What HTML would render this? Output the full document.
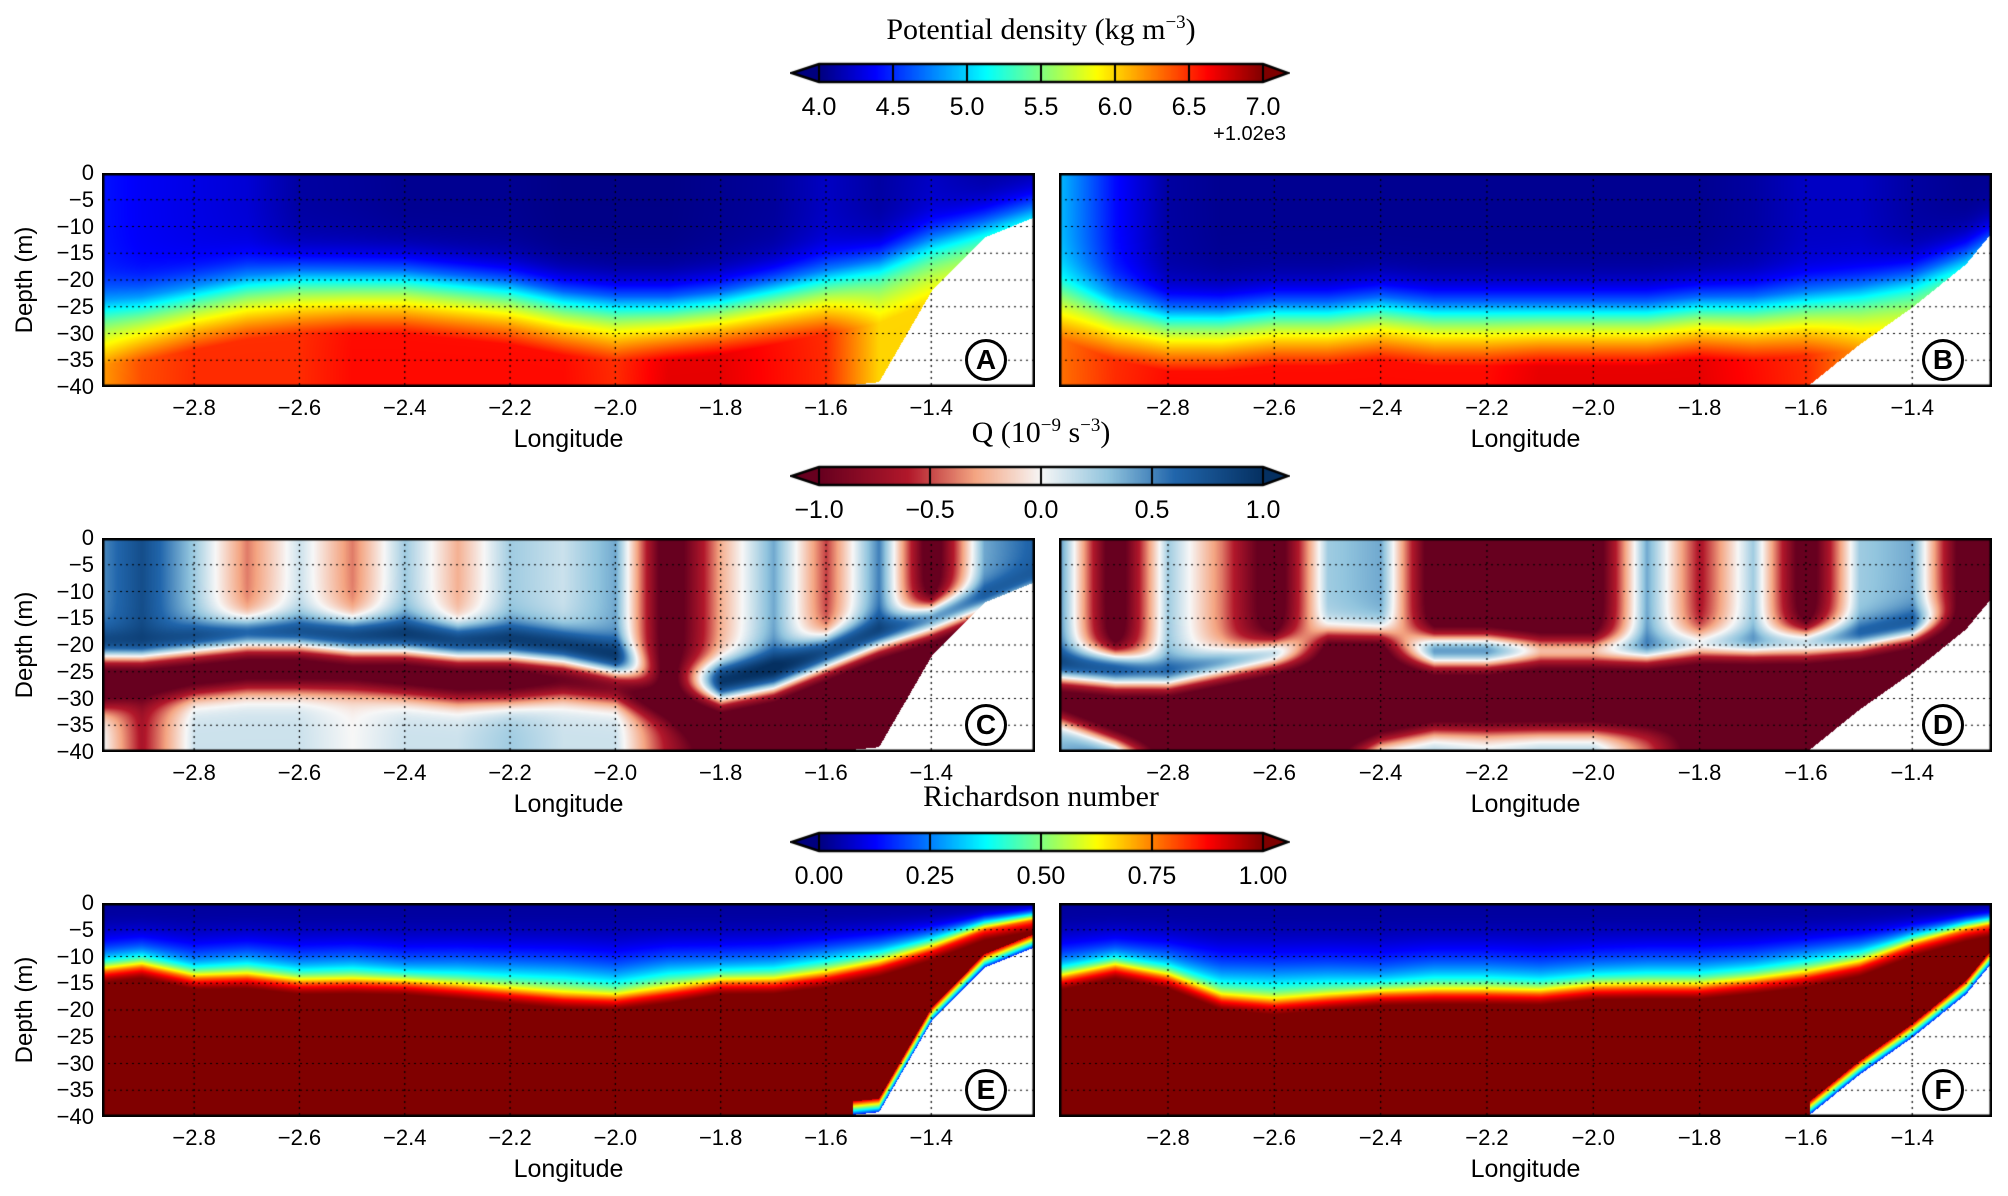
<!DOCTYPE html>
<html><head><meta charset="utf-8">
<style>
body{margin:0;background:#fff;width:2008px;height:1196px;overflow:hidden;font-family:"Liberation Sans",sans-serif;}
#root{position:relative;width:2008px;height:1196px;}
canvas{position:absolute;}
.t{position:absolute;font-size:22px;color:#000;white-space:nowrap;}
.ttl{position:absolute;font-family:"Liberation Serif",serif;font-size:30px;white-space:nowrap;transform:translateX(-50%);}
</style></head><body>
<div id="root"></div>
<script>
// ---------- data ----------
const lons=[-3.0,-2.9,-2.8,-2.7,-2.6,-2.5,-2.4,-2.3,-2.2,-2.1,-2.0,-1.9,-1.8,-1.7,-1.6,-1.5,-1.4,-1.3,-1.2];
const bottomA=[40,40,40,40,40,40,40,40,40,40,40,40,40,40,40,39,22,12,8];
const bottomB=[40,40,40,40,40,40,40,40,40,40,40,40,40,40,40,32,25,17,5];
const rhoSurfA=[4.45,4.35,4.3,4.25,4.1,4.08,4.05,4.05,4.05,4.02,4.02,4.02,4.05,4.08,4.2,4.1,4.2,4.1,4.1];
const rhoIfaceA=[27,26,24,22,21,21,21,22,23,25,26,26,25,23,21,19,15,12,9];
const rhoBotA=[6.1,6.4,6.5,6.5,6.5,6.6,6.6,6.6,6.6,6.6,6.5,6.7,6.7,6.6,6.5,6.0,6.0,6.0,6.0];
const rhoSurfB=[4.9,4.4,4.1,4.05,4.05,4.05,4.05,4.05,4.05,4.05,4.05,4.05,4.05,4.1,4.2,4.2,4.1,4.05,4.05];
const rhoIfaceB=[22,26,28,28,27,27,26,27,27,27,27,27,26,26,25,24,22,18,12];
const rhoBotB=[6.3,6.5,6.6,6.6,6.6,6.6,6.6,6.6,6.6,6.7,6.7,6.7,6.7,6.6,6.5,6.2,6.0,6.0,6.0];
const qD1C=[18,19,17,16,16,16,16,17,17,18,20,24,24,22,19,16,13,10,7];
const qD2C=[22,22,21,20,20,21,21,22,22,23,25,28,30,28,24,20,17,13,9];
const qD3C=[32,30,29,28,28,28,29,30,30,29,30,34,40,40,40,40,40,40,40];
const qTopC=[0.3,0.6,0.2,-0.3,0.1,-0.3,0.2,-0.2,0.2,0.1,0.3,-1,-0.2,0.3,-0.4,0.4,-1,0.3,0.5];
const qBandC=[1,1,1,1,1,1,1,1,1,1,1,-1,1,1,1,1,1,1,1];
const qLowC=[-1,-1,-1,-1,-1,-1,-1,-1,-1,-1,-1,-1,-1,-1,-1,-1,-1,-1,-1];
const qDeepC=[0.2,-0.5,0.1,0.1,0.1,0,0.1,0.1,0.2,0.1,0.1,-0.5,-1,-1,-1,-1,-1,-1,-1];
const qD1D=[22,22,24,22,20,18,18,19,19,20,20,20,19,19,18,17,15,12,8];
const qD2D=[26,27,27,25,23,22,22,23,23,22,22,22,21,21,21,20,18,15,10];
const qD3D=[34,38,40,40,40,40,38,36,36,36,36,36,36,38,40,40,40,40,40];
const qTopD=[0.3,-1,0.2,-0.3,-1,0.2,0.3,-1,-1,-1,-1,0.3,-0.5,0.2,-1,0.2,0.3,-1,-1];
const qBandD=[1,1,1,1,1,-1,-1,1,1,1,1,1,1,1,1,1,1,-1,-1];
const qLowD=[-1,-1,-1,-1,-1,-1,-1,-1,-1,-1,-1,-1,-1,-1,-1,-1,-1,-1,-1];
const qDeepD=[0.3,0.5,-1,-1,-1,-1,0.2,0.2,0.1,0.2,0.2,-0.3,-1,-1,-1,-1,-1,-1,-1];
const riIfaceE=[13,12,14,14,15,15,15,16,17,18,18,17,15,15,14,12,9,5,3];
const riTopE=[0.1,0.15,0.1,0.2,0.15,0.2,0.1,0.2,0.25,0.3,0.2,0.3,0.15,0.2,0.3,0.3,0.3,0.2,0.1];
const riIfaceF=[14,12,14,18,19,18,17,17,17,17,16,16,16,15,14,12,8,5,3];
const riTopF=[0.1,0.1,0.15,0.2,0.25,0.2,0.1,0.2,0.2,0.15,0.15,0.2,0.2,0.2,0.3,0.3,0.2,0.1,0.1];
const xTicks=[-2.8,-2.6,-2.4,-2.2,-2.0,-1.8,-1.6,-1.4];
const yTicks=[0,-5,-10,-15,-20,-25,-30,-35,-40];
const cb1Ticks=["4.0","4.5","5.0","5.5","6.0","6.5","7.0"];
const cb2Ticks=["\u22121.0","\u22120.5","0.0","0.5","1.0"];
const cb3Ticks=["0.00","0.25","0.50","0.75","1.00"];

// ---------- helpers ----------
const root=document.getElementById('root');
function interp(arr,lon){let f=(lon-lons[0])/0.1;if(f<=0)return arr[0];if(f>=arr.length-1)return arr[arr.length-1];let i=Math.floor(f),t=f-i;return arr[i]*(1-t)+arr[i+1]*t;}
function sig(x){return 1/(1+Math.exp(-x));}
function jet(v){v=Math.max(0,Math.min(1,v));const r=Math.min(Math.max(1.5-Math.abs(4*v-3),0),1),g=Math.min(Math.max(1.5-Math.abs(4*v-2),0),1),b=Math.min(Math.max(1.5-Math.abs(4*v-1),0),1);return [r*255,g*255,b*255];}
const rdStops=[[-1,[103,0,31]],[-0.6,[178,24,43]],[-0.3,[244,165,130]],[0,[247,247,247]],[0.3,[146,197,222]],[0.6,[33,102,172]],[1,[5,48,97]]];
function rdbu(v){v=Math.max(-1,Math.min(1,v));for(let i=0;i<rdStops.length-1;i++){const a=rdStops[i],b=rdStops[i+1];if(v<=b[0]){const t=(v-a[0])/(b[0]-a[0]);return a[1].map((c,k)=>c+(b[1][k]-c)*t);}}return rdStops[6][1];}
function el(tag,cls,name,txt,style){const e=document.createElement(tag);if(cls)e.className=cls;

if(txt!=null)e.innerHTML=txt;Object.assign(e.style,style||{});root.appendChild(e);return e;}

const PX={A:102,B:1059},PW=933,PH=214;
const rowsY=[173,538,903];
const lonRange={A:[-2.975,-1.203],B:[-3.005,-1.25]};

function panel(col,row,letter,fn,bottom){
  const x0=PX[col],y0=rowsY[row],[l0,l1]=lonRange[col];
  const cv=document.createElement('canvas');cv.width=PW;cv.height=PH;
  cv.style.left=x0+'px';cv.style.top=y0+'px';
  
  
  root.appendChild(cv);
  const ctx=cv.getContext('2d');const img=ctx.createImageData(PW,PH);
  for(let i=0;i<PW;i++){const lon=l0+(l1-l0)*i/PW;const bot=interp(bottom,lon);
    for(let j=0;j<PH;j++){const z=40*j/PH;let c;
      if(z>bot)c=[255,255,255];else c=fn(lon,z,bot);
      const k=(j*PW+i)*4;img.data[k]=c[0];img.data[k+1]=c[1];img.data[k+2]=c[2];img.data[k+3]=255;}}
  ctx.putImageData(img,0,0);
  ctx.strokeStyle='#000';ctx.lineWidth=1.2;ctx.setLineDash([2,4]);
  xTicks.forEach(t=>{const x=(t-l0)/(l1-l0)*PW;ctx.beginPath();ctx.moveTo(x,0);ctx.lineTo(x,PH);ctx.stroke();});
  yTicks.forEach(t=>{const y=-t/40*PH;ctx.beginPath();ctx.moveTo(0,y);ctx.lineTo(PW,y);ctx.stroke();});
  ctx.setLineDash([]);ctx.lineWidth=3;ctx.strokeRect(1,1,PW-2,PH-2);
  xTicks.forEach(t=>{const x=x0+(t-l0)/(l1-l0)*PW;
    el('div','t','x-tick-label',String(t.toFixed(1)).replace('-','\u2212'),{left:(x-25)+'px',top:(y0+PH+8)+'px',width:'50px',textAlign:'center'});});
  el('div','t','x-axis-title','Longitude',{left:(x0+PW/2-150)+'px',top:(y0+PH+38)+'px',width:'300px',textAlign:'center',fontSize:'25px'});
  if(col==='A'){
    yTicks.forEach(t=>{const y=y0-t/40*PH;el('div','t','y-tick-label',String(t).replace('-','\u2212'),{left:'40px',top:(y-13)+'px',width:'54px',textAlign:'right'});});
    el('div','t','y-axis-title','Depth (m)',{left:'-35px',top:(y0+PH/2-14)+'px',width:'120px',textAlign:'center',fontSize:'24px',transform:'rotate(-90deg)'});
  }
  el('div','t','panel-label-'+letter.toLowerCase(),letter,{left:(x0+PW-70)+'px',top:(y0+PH-48)+'px',width:'36px',height:'36px',lineHeight:'36px',borderRadius:'50%',border:'3.5px solid #000',background:'#fff',textAlign:'center',fontWeight:'bold',fontSize:'28px'});
}
function densFn(surf,iface,botv){return (lon,z)=>{const s=interp(surf,lon),i=interp(iface,lon)-3,b=interp(botv,lon);
  const t=sig((z-i)/2.2);let v=s+(5.3-s)*t+(b-5.3)*Math.max(0,Math.min(1,(z-i)/12))*t;return jet((v-4)/3);};}
function qFn(d1,d2,d3,top,band,low,deep){return (lon,z)=>{const a=interp(d1,lon),b=interp(d2,lon),c=interp(d3,lon);
  const w=1.3;const s1=sig((z-a)/w),s2=sig((z-b)/w),s3=sig((z-c)/w);
  const v=interp(top,lon)*(1-s1)+interp(band,lon)*s1*(1-s2)+interp(low,lon)*s2*(1-s3)+interp(deep,lon)*s3;return rdbu(v*1.3);};}
function riFn(iface,top){return (lon,z,bot)=>{const i=interp(iface,lon),t=interp(top,lon);
  const s=sig((z-i)/0.9);
  const vt=0.03+(t+0.35)*Math.pow(Math.min(1,z/i),2.5);
  let v=vt*(1-s)+1.05*s;
  if(bot<39.5){const d=bot-z;if(d<2.5)v=Math.min(v,0.15+d*0.3);}
  return jet(v);};}

panel('A',0,'A',densFn(rhoSurfA,rhoIfaceA,rhoBotA),bottomA);
panel('B',0,'B',densFn(rhoSurfB,rhoIfaceB,rhoBotB),bottomB);
panel('A',1,'C',qFn(qD1C,qD2C,qD3C,qTopC,qBandC,qLowC,qDeepC),bottomA);
panel('B',1,'D',qFn(qD1D,qD2D,qD3D,qTopD,qBandD,qLowD,qDeepD),bottomB);
panel('A',2,'E',riFn(riIfaceE,riTopE),bottomA);
panel('B',2,'F',riFn(riIfaceF,riTopF),bottomB);

// ---------- colorbars ----------
function colorbar(y,cmap,ticks,name,title,titleY){
  const cv=document.createElement('canvas');cv.width=500;cv.height=24;cv.style.left='790px';cv.style.top=(y-3)+'px';
  
  
  root.appendChild(cv);const ctx=cv.getContext('2d');
  const L=29,R=473,H=18,T=3;
  for(let i=L;i<R;i++){const c=cmap((i-L)/(R-L));ctx.fillStyle=`rgb(${c[0]|0},${c[1]|0},${c[2]|0})`;ctx.fillRect(i,T,1,H);}
  let c=cmap(-0.05);ctx.fillStyle=`rgb(${c[0]|0},${c[1]|0},${c[2]|0})`;ctx.beginPath();ctx.moveTo(2,T+H/2);ctx.lineTo(L,T);ctx.lineTo(L,T+H);ctx.closePath();ctx.fill();
  c=cmap(1.05);ctx.fillStyle=`rgb(${c[0]|0},${c[1]|0},${c[2]|0})`;ctx.beginPath();ctx.moveTo(498,T+H/2);ctx.lineTo(R,T);ctx.lineTo(R,T+H);ctx.closePath();ctx.fill();
  ctx.strokeStyle='#000';ctx.lineWidth=2.5;ctx.beginPath();ctx.moveTo(2,T+H/2);ctx.lineTo(L,T);ctx.lineTo(R,T);ctx.lineTo(498,T+H/2);ctx.lineTo(R,T+H);ctx.lineTo(L,T+H);ctx.closePath();ctx.stroke();
  ctx.lineWidth=2;ticks.forEach((t,k)=>{const x=L+(R-L)*k/(ticks.length-1);ctx.beginPath();ctx.moveTo(x,T);ctx.lineTo(x,T+H);ctx.stroke();
    el('div','t','colorbar-tick-label',t,{left:(790+x-40)+'px',top:(y+29)+'px',width:'80px',textAlign:'center',fontSize:'25px'});});
  el('div','ttl','colorbar-title',title,{left:'1041px',top:titleY+'px'});
}
colorbar(64,v=>jet(v),cb1Ticks,'density-colorbar','Potential density (kg m<sup style="font-size:19px">\u22123</sup>)',12);
colorbar(467,v=>rdbu(v*2-1),cb2Ticks,'q-colorbar','Q (10<sup style="font-size:19px">\u22129</sup> s<sup style="font-size:19px">\u22123</sup>)',415);
colorbar(833,v=>jet(v),cb3Ticks,'richardson-colorbar','Richardson number',780);
el('div','t','offset-label','+1.02e3',{left:'1193px',top:'123px',width:'93px',textAlign:'right',fontSize:'20px'});
</script>
</body></html>
